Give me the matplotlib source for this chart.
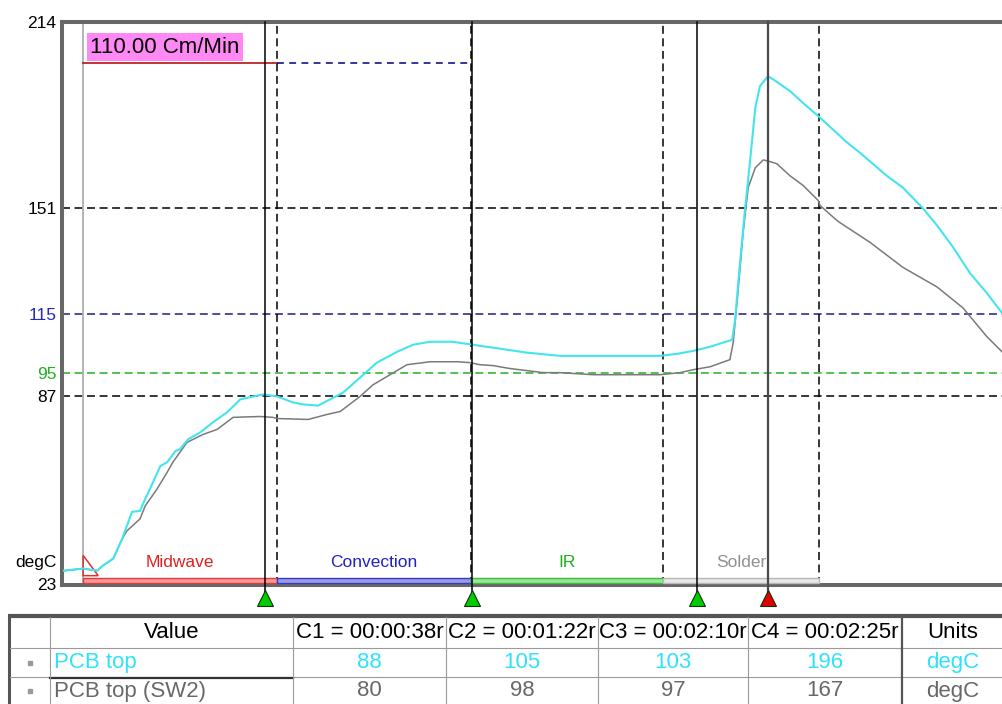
import matplotlib
matplotlib.use("Agg")
import matplotlib.pyplot as plt
from matplotlib.patches import Rectangle, Polygon

plt.rcParams["font.family"] = ["Liberation Sans", "DejaVu Sans"]

# ---------- Data (time in s, temperature in degC) ----------
cyan_t = [-4.8, -0.7, 2.3, 3.5, 5.7, 7.6, 8.2, 9.7, 11.4, 12.5, 13.5, 15.7, 17.2, 18.9, 19.9,
          21.6, 24.2, 26.9, 29.9, 31.2, 32.7, 35.5, 37.6, 40.6, 43.9, 46.1, 49.3, 51.8, 54.6, 58.2,
          61.8, 66.1, 69.5, 73.1, 78.0, 79.5, 82.3, 83.7, 86.5, 93.7, 100.8, 111.4, 122.0, 125.7, 129.1,
          132.7, 137.4, 138.0, 139.1, 140.1, 141.2, 142.3, 143.3, 145.0, 146.1, 149.7, 152.5, 155.7, 160.3,
          161.4, 164.6, 170.3, 173.7, 178.0, 181.0, 184.4, 188.0, 191.6, 194.8]
cyan_T = [27.7, 28.4, 27.7, 29.4, 31.8, 38.5, 41.2, 47.7, 48.0, 52.1, 55.4, 63.2, 64.6, 68.3, 69.0,
          72.3, 74.7, 78.1, 81.5, 83.5, 85.9, 86.9, 87.6, 86.9, 84.9, 84.2, 83.8, 85.9, 88.2, 93.3,
          98.4, 102.1, 104.5, 105.5, 105.5, 105.1, 104.5, 104.1, 103.5, 101.8, 100.7, 100.7, 100.7, 101.4, 102.4,
          103.8, 106.2, 112.9, 133.2, 150.1, 167.0, 184.9, 192.4, 195.7, 194.7, 190.7, 186.6, 182.2, 175.5,
          173.8, 169.7, 161.9, 157.9, 150.8, 145.0, 137.6, 128.8, 122.0, 115.3]

gray_t = [-4.8, -0.7, 2.3, 3.5, 5.7, 7.6, 8.6, 11.4, 12.5, 15.0, 17.2, 18.4, 21.4, 24.8, 27.8,
          31.2, 36.9, 39.7, 40.6, 47.2, 51.2, 54.0, 58.2, 61.0, 64.6, 68.2, 73.1, 79.1, 81.6, 83.7,
          86.5, 90.1, 97.2, 100.8, 107.8, 122.0, 126.3, 129.1, 132.7, 136.9, 137.6, 138.6, 139.7, 140.8, 142.3,
          144.0, 145.5, 146.9, 149.7, 152.5, 155.7, 156.1, 159.7, 160.3, 166.7, 173.7, 181.0, 186.5, 191.6, 194.8]
gray_T = [27.7, 28.4, 27.7, 29.4, 31.8, 38.5, 41.2, 45.3, 49.7, 55.4, 61.2, 64.6, 71.3, 74.0, 75.7,
          79.8, 80.1, 79.8, 79.4, 79.1, 80.8, 81.8, 86.9, 90.9, 94.3, 97.7, 98.7, 98.7, 98.4, 97.7,
          97.4, 96.4, 95.0, 95.0, 94.3, 94.3, 95.0, 96.0, 97.0, 99.4, 105.1, 122.0, 142.3, 157.9, 164.6,
          167.3, 166.7, 166.0, 161.9, 158.6, 153.5, 151.8, 146.7, 146.0, 139.3, 130.8, 124.1, 117.0, 107.2, 102.1]

zone_names = ["Midwave", "Convection", "IR", "Solder"]
zone_edges = [-0.7, 40.6, 81.8, 122.7, 155.9]
zone_text_colors = ["#e02020", "#2020c8", "#20b020", "#909090"]
zone_bar_edge = ["#e03a3a", "#3a3ac0", "#3ac03a", "#b8b8b8"]
zone_bar_face = ["#f29a9a", "#9a9ae6", "#9ae69a", "#e8e8e8"]

limit_values = [151, 115, 95, 87]
limit_colors = ["black", "#1c1c90", "#22b022", "black"]
ytick_values = [23, 87, 95, 115, 151, 214]
ytick_colors = ["black", "black", "#22b022", "#2525cc", "black", "black"]

cursor_times = [38, 82, 130, 145]
cursor_labels = ["C1 = 00:00:38r", "C2 = 00:01:22r", "C3 = 00:02:10r", "C4 = 00:02:25r"]
cursor_marker_colors = ["#00cc00", "#00cc00", "#00cc00", "#e00000"]

speed = 110.0
speed_level = 200.2

series_names = ["PCB top", "PCB top (SW2)"]
cyan_readings = [88, 105, 103, 196]
gray_readings = [80, 98, 97, 167]
units = "degC"

CYAN = "#44e4ee"
CYAN_TXT = "#2ee2f8"
GRAY = "#7a7a7a"
GRAY_TXT = "#686868"

# ---------- Figure ----------
W, H = 1002, 704
fig = plt.figure(figsize=(W / 100, H / 100), dpi=100)

x0, x1 = 62, 1010
ytop, ybot = 22.5, 584.5
ax = fig.add_axes([x0 / W, 1 - ybot / H, (x1 - x0) / W, (ybot - ytop) / H])
t_left = -5.2
t_right = t_left + (x1 - x0) / 4.7
ax.set_xlim(t_left, t_right)
ax.set_ylim(23, 214)

for s in ax.spines.values():
    s.set_linewidth(2.9)
    s.set_color("#676767")
ax.spines["right"].set_visible(False)

ax.set_xticks([])
ax.set_yticks(ytick_values)
ax.set_yticklabels([str(v) for v in ytick_values], fontsize=12.5)
for lab, c in zip(ax.get_yticklabels(), ytick_colors):
    lab.set_color(c)
ax.tick_params(axis="y", length=0, pad=4)
ax.text(-0.006, 30.4, "degC", transform=ax.get_yaxis_transform(), ha="right", va="center",
        fontsize=12.5)

dash = (0, (5.2, 3.0))

# horizontal limit lines
for v, c in zip(limit_values, limit_colors):
    ax.axhline(v, color=c, lw=1.1, ls=dash, zorder=2)

# zone start line
ax.axvline(zone_edges[0], color="#a8a8a8", lw=1.2, zorder=2)

# zone boundary dashed lines
for e in zone_edges[1:]:
    ax.axvline(e, color="black", lw=1.1, ls=dash, zorder=2)

# conveyor speed line
ax.plot([zone_edges[0], zone_edges[1]], [speed_level, speed_level], color="#b00000", lw=1.1, zorder=3)
ax.plot([zone_edges[1], zone_edges[2]], [speed_level, speed_level], color="#000080", lw=1.1,
        ls=(0, (4.5, 3.5)), zorder=3)
ax.text(zone_edges[0] + 1.5, 205.6, f"{speed:.2f} Cm/Min", fontsize=16, ha="left", va="center",
        bbox=dict(boxstyle="square,pad=0.16", fc="#ff88f4", ec="none"), zorder=4)

# zone bars and labels
for i, name in enumerate(zone_names):
    a, b = zone_edges[i], zone_edges[i + 1]
    ax.add_patch(Rectangle((a, 23.6), b - a, 1.7, fc=zone_bar_face[i], ec=zone_bar_edge[i],
                           lw=1.0, zorder=3))
    ax.text((a + b) / 2, 30.4, name, color=zone_text_colors[i], fontsize=12.5,
            ha="center", va="center", zorder=4)

# start marker
s0 = zone_edges[0]
ax.add_patch(Polygon([[s0, 32.9], [s0, 26.0], [s0 + 3.2, 26.0]], closed=True, fill=False,
                     ec="#e03030", lw=1.1, zorder=4))

# curves
ax.plot(gray_t, gray_T, color=GRAY, lw=1.1, zorder=5)
ax.plot(cyan_t, cyan_T, color=CYAN, lw=1.5, zorder=6)

# cursors
for i, t in enumerate(cursor_times):
    col = "#4a4a4a" if i == 3 else "black"
    lw = 1.6 if i == 3 else 1.1
    ax.plot([t, t], [214, 20.5], color=col, lw=lw, clip_on=False, zorder=7)
    ax.plot([t], [18.4], marker="^", ms=11.5, mfc=cursor_marker_colors[i], mec="#103010",
            mew=0.8, clip_on=False, zorder=8)

# ---------- Table ----------
tb = fig.add_axes([0, 0, 1, 94 / H])
tb.set_xlim(0, W)
tb.set_ylim(704, 610)
tb.axis("off")

col_edges = [10, 50, 293, 446, 598, 748, 902, 1012]
thin = dict(color="#9a9a9a", lw=0.8)

tb.plot([8, 1012], [616, 616], color="#555555", lw=3.0, solid_capstyle="butt")
tb.plot([9.5, 9.5], [614.5, 706], color="#555555", lw=2.2)
tb.plot([10, 1012], [648, 648], **thin)
tb.plot([10, 1012], [677, 677], **thin)
tb.plot([50, 293], [677.5, 677.5], color="#333333", lw=1.6)
for x in col_edges[1:-2]:
    tb.plot([x, x], [617, 706], **thin)
tb.plot([902, 902], [617, 706], color="#555555", lw=1.6)

header = ["", "Value"] + cursor_labels + ["Units"]
centers = [(col_edges[i] + col_edges[i + 1]) / 2 for i in range(len(col_edges) - 1)]
centers[-1] = 953
for c, txt in zip(centers, header):
    tb.text(c, 633, txt, ha="center", va="center", fontsize=16)

rows = [(series_names[0], cyan_readings, CYAN_TXT), (series_names[1], gray_readings, GRAY_TXT)]
for (name, vals, col), y in zip(rows, [662.5, 691]):
    tb.plot([30], [y], marker="s", ms=2.2, color="#9a9a9a")
    tb.text(54, y, name, ha="left", va="center", fontsize=16, color=col)
    for c, v in zip(centers[2:6], vals):
        tb.text(c, y, str(v), ha="center", va="center", fontsize=16, color=col)
    tb.text(centers[-1], y, units, ha="center", va="center", fontsize=16, color=col)

fig.savefig("out.png", dpi=100)
